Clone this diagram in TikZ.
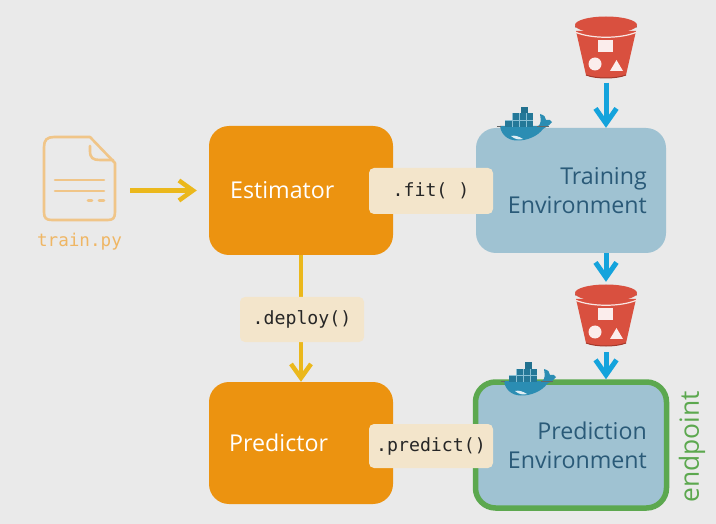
\documentclass[tikz,border=0pt]{standalone}
\usepackage{fontspec}
\setmainfont{Open Sans}
\setmonofont{DejaVu Sans Mono}
\usetikzlibrary{arrows.meta}
\definecolor{bg}{HTML}{EAEAEA}
\definecolor{orng}{HTML}{EC9310}
\definecolor{envblue}{HTML}{9FC2D2}
\definecolor{cream}{HTML}{F3E5CB}
\definecolor{yarrow}{HTML}{EBB81C}
\definecolor{barrow}{HTML}{14A3DC}
\definecolor{grn}{HTML}{5CA84F}
\definecolor{bred}{HTML}{D9503F}
\definecolor{bdark}{HTML}{8E2F24}
\definecolor{filec}{HTML}{F0C588}
\definecolor{dock}{HTML}{2B8DB3}
\definecolor{txt}{HTML}{2A5A78}
\tikzset{
  x=1pt,y=-1pt,
  est/.style={fill=orng,draw=none,rounded corners=20pt,inner sep=0pt},
  envbox/.style={fill=envblue,rounded corners=20pt,inner sep=0pt},
  boxlabel/.style={inner sep=0pt,font=\fontsize{23.2}{29}\selectfont},
  method/.style={fill=cream,rounded corners=5pt,text=black!85,font=\ttfamily\fontsize{18.2}{20}\selectfont,inner sep=0pt},
  yline/.style={draw=yarrow,line width=4.5pt,-{Straight Barb[length=14pt,width=20pt,line width=4.5pt]}},
  bline/.style={draw=barrow,line width=5pt,-{Straight Barb[length=15pt,width=21pt,line width=5pt]}},
  hold/.style={minimum width=62pt,inner sep=0pt},
  fileln/.style={draw=filec,line width=2.6pt,line cap=round,line join=round}
}
\newcommand{\mybucket}[2]{%
  \begin{scope}[shift={(#1,#2)}]
    \fill[bred] (-30,5) -- (-20,49) .. controls (-10,53) and (10,53) .. (20,49) -- (30,5) -- cycle;
    \draw[bdark!70!bred,line width=1pt] (-20,49) .. controls (-10,53) and (10,53) .. (20,49);
    \draw[white!85!bred,line width=1.2pt] (-31,6) .. controls (-15,13) and (15,13) .. (31,6);
    \fill[bdark] (-31,1.5) arc[start angle=180,end angle=360,x radius=31,y radius=8] -- cycle;
    \fill[bred] (0,-1) ellipse[x radius=31,y radius=8.5];
    \fill[white!90!bred] (-8,14) rectangle (7,26);
    \fill[white!90!bred] (-11,38) circle[radius=6.5];
    \fill[white!90!bred] (4,45) -- (17,45) -- (10.5,34) -- cycle;
  \end{scope}}
\newcommand{\mywhale}[2]{%
  \begin{scope}[shift={(#1,#2)}]
    % body and tail
    \fill[dock] (3,19) -- (41,19) .. controls (44,18) and (44,13) .. (43,7)
      .. controls (47,8) and (49,10) .. (49,13) .. controls (52,12) and (54,13) .. (55,15)
      .. controls (52,19) and (49,20) .. (46,22) .. controls (41,29) and (30,34) .. (19,33.5)
      .. controls (10,33) and (4,27) .. (3,19) -- cycle;
    % containers
    \fill[dock!85!black] (8,13) rectangle (36,20);
    \fill[dock!85!black] (15,6.5) rectangle (36,13);
    \fill[dock!80!black] (24,0) rectangle (31,6.5);
    \draw[dock!55!white,line width=.5pt] (15,6.5)--(15,20) (22,6.5)--(22,20) (29,6.5)--(29,20) (8,13)--(36,13);
    \draw[black!60,line width=.5pt] (0,19) -- (4,19) (40,19) -- (52,19);
    % belly
    \fill[white!85!dock] (14,29) .. controls (18,32.5) and (22,33) .. (26,32) .. controls (22,29.5) and (18,28) .. (14,29) -- cycle;
  \end{scope}}
\begin{document}
\begin{tikzpicture}
\useasboundingbox (0,0) rectangle (716,524);
\fill[bg] (0,0) rectangle (716,524);

% boxes
\node[est,minimum width=184pt,minimum height=129pt] (estimator) at (301,190.5) {};
\node[boxlabel,text=white,anchor=west] (estlabel) at (230,190.5) {Estimator};
\node[est,minimum width=184pt,minimum height=122pt] (predictor) at (301,443) {};
\node[boxlabel,text=white,anchor=west] (predlabel) at (229,443) {Predictor};
\node[envbox,minimum width=190pt,minimum height=125pt] (training) at (571,190.5) {};
\node[boxlabel,text=txt,align=right,anchor=east] (trainlabel) at (647,190.5) {Training\\Environment};
\node[envbox,draw=grn,line width=5.5pt,minimum width=191pt,minimum height=126pt] (prediction) at (571,445) {};
\node[boxlabel,text=txt,align=right,anchor=east] (predenvlabel) at (647,445) {Prediction\\Environment};

% file icon
\draw[fileln] (54,137) -- (90,137) -- (115,163) -- (115,212) .. controls (115,218) and (113,220) .. (108,220)
  -- (52,220) .. controls (46,220) and (44,218) .. (44,212) -- (44,147) .. controls (44,140) and (47,137) .. (54,137) -- cycle;
\draw[fileln] (90,146) -- (90,151) .. controls (90,158) and (93,160) .. (100,160) -- (113,160);
\draw[fileln] (55,180) -- (104,180);
\draw[fileln] (55,191) -- (104,191);
\draw[fileln] (88,200.5) -- (92,200.5);
\draw[fileln] (99,200.5) -- (104,200.5);
\node[inner sep=0pt,minimum width=86pt,minimum height=84pt] (file) at (87,190.5) {};
\node[inner sep=0pt,text=filec!70!orng,font=\ttfamily\fontsize{17.6}{20}\selectfont] (trainpy) at (79.5,242) {train.py};

% buckets
\mybucket{606}{26}
\mybucket{606}{294}
\node[hold,minimum height=68pt] (bucketA) at (606,48.5) {};
\node[hold,minimum height=70pt] (bucketB) at (606,317) {};

% connectors
\draw[yline,shorten >=12pt] (file.east) -- (estimator.west);
\draw[yline] (estimator.south) -- (predictor.north);
\draw[bline] (bucketA.south) -- (bucketA.south |- training.north);
\draw[bline] (bucketB.north |- training.south) -- (bucketB.north);
\draw[bline] (bucketB.south) -- (bucketB.south |- prediction.north);

% whales
\mywhale{497}{107}
\mywhale{501}{362}

% method labels
\node[method,minimum width=124pt,minimum height=46pt] (fit) at (431,191) {.fit( )};
\node[method,minimum width=124pt,minimum height=45pt] (deploy) at (302,319.5) {.deploy()};
\node[method,minimum width=124pt,minimum height=44pt] (predict) at (431,446) {.predict()};

\node[rotate=90,inner sep=0pt,text=grn,font=\fontsize{26.4}{28}\selectfont] (endpoint) at (692,447) {endpoint};
\end{tikzpicture}
\end{document}
